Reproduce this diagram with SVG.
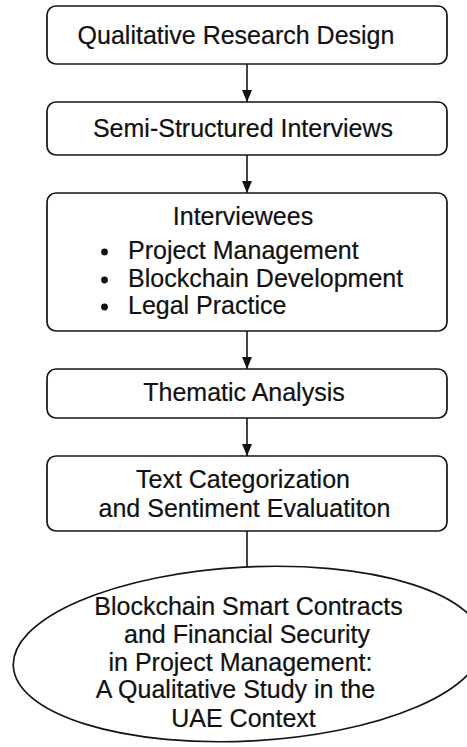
<svg xmlns="http://www.w3.org/2000/svg" width="467" height="747" viewBox="0 0 467 747">
<style>
.box{fill:#fff;stroke:#151515;stroke-width:1.7}
.t{font-family:"Liberation Sans",Arial,sans-serif;font-size:25px;fill:#111;text-anchor:middle;stroke:#111;stroke-width:0.2}
.tl{font-family:"Liberation Sans",Arial,sans-serif;font-size:25px;fill:#111;stroke:#111;stroke-width:0.2}
.c{stroke:#151515;stroke-width:1.6;fill:none}
</style>
<defs>
<marker id="ah" markerWidth="12" markerHeight="10" refX="12" refY="5" orient="auto" markerUnits="userSpaceOnUse">
<path d="M0,0 L12,5 L0,10 Z" fill="#111"/>
</marker>
</defs>
<rect width="467" height="747" fill="#fff"/>
<g id="connectors">
<line class="c" x1="247" y1="64" x2="247" y2="102" marker-end="url(#ah)"/>
<line class="c" x1="247" y1="155" x2="247" y2="193" marker-end="url(#ah)"/>
<line class="c" x1="247" y1="331" x2="247" y2="369" marker-end="url(#ah)"/>
<line class="c" x1="247" y1="418" x2="247" y2="456" marker-end="url(#ah)"/>
<line class="c" x1="247" y1="531" x2="247" y2="567"/>
</g>
<g id="n1">
<rect class="box" x="47" y="6" width="400" height="58" rx="9"/>
<text class="t" x="236" y="44">Qualitative Research Design</text>
</g>
<g id="n2">
<rect class="box" x="47" y="102" width="400" height="53" rx="9"/>
<text class="t" x="243" y="137">Semi-Structured Interviews</text>
</g>
<g id="n3">
<rect class="box" x="47" y="193" width="400" height="138" rx="9"/>
<text class="t" x="243" y="225">Interviewees</text>
<circle cx="104.5" cy="252" r="3.4" fill="#111"/>
<circle cx="104.5" cy="280" r="3.4" fill="#111"/>
<circle cx="104.5" cy="307" r="3.4" fill="#111"/>
<text class="tl" x="128" y="259">Project Management</text>
<text class="tl" x="128" y="287">Blockchain Development</text>
<text class="tl" x="128" y="314">Legal Practice</text>
</g>
<g id="n4">
<rect class="box" x="47" y="369" width="400" height="49" rx="9"/>
<text class="t" x="244" y="401">Thematic Analysis</text>
</g>
<g id="n5">
<rect class="box" x="47" y="456" width="400" height="75" rx="9"/>
<text class="t" x="243" y="488">Text Categorization</text>
<text class="t" x="244.5" y="517">and Sentiment Evaluatiton</text>
</g>
<g id="n6">
<ellipse class="box" cx="248" cy="654" rx="235" ry="87" transform="rotate(-3 248 654)"/>
<text class="t" x="248.5" y="615">Blockchain Smart Contracts</text>
<text class="t" x="247" y="643">and Financial Security</text>
<text class="t" x="240.5" y="671">in Project Management:</text>
<text class="t" x="235.5" y="698">A Qualitative Study in the</text>
<text class="t" x="243.5" y="727">UAE Context</text>
</g>
</svg>
